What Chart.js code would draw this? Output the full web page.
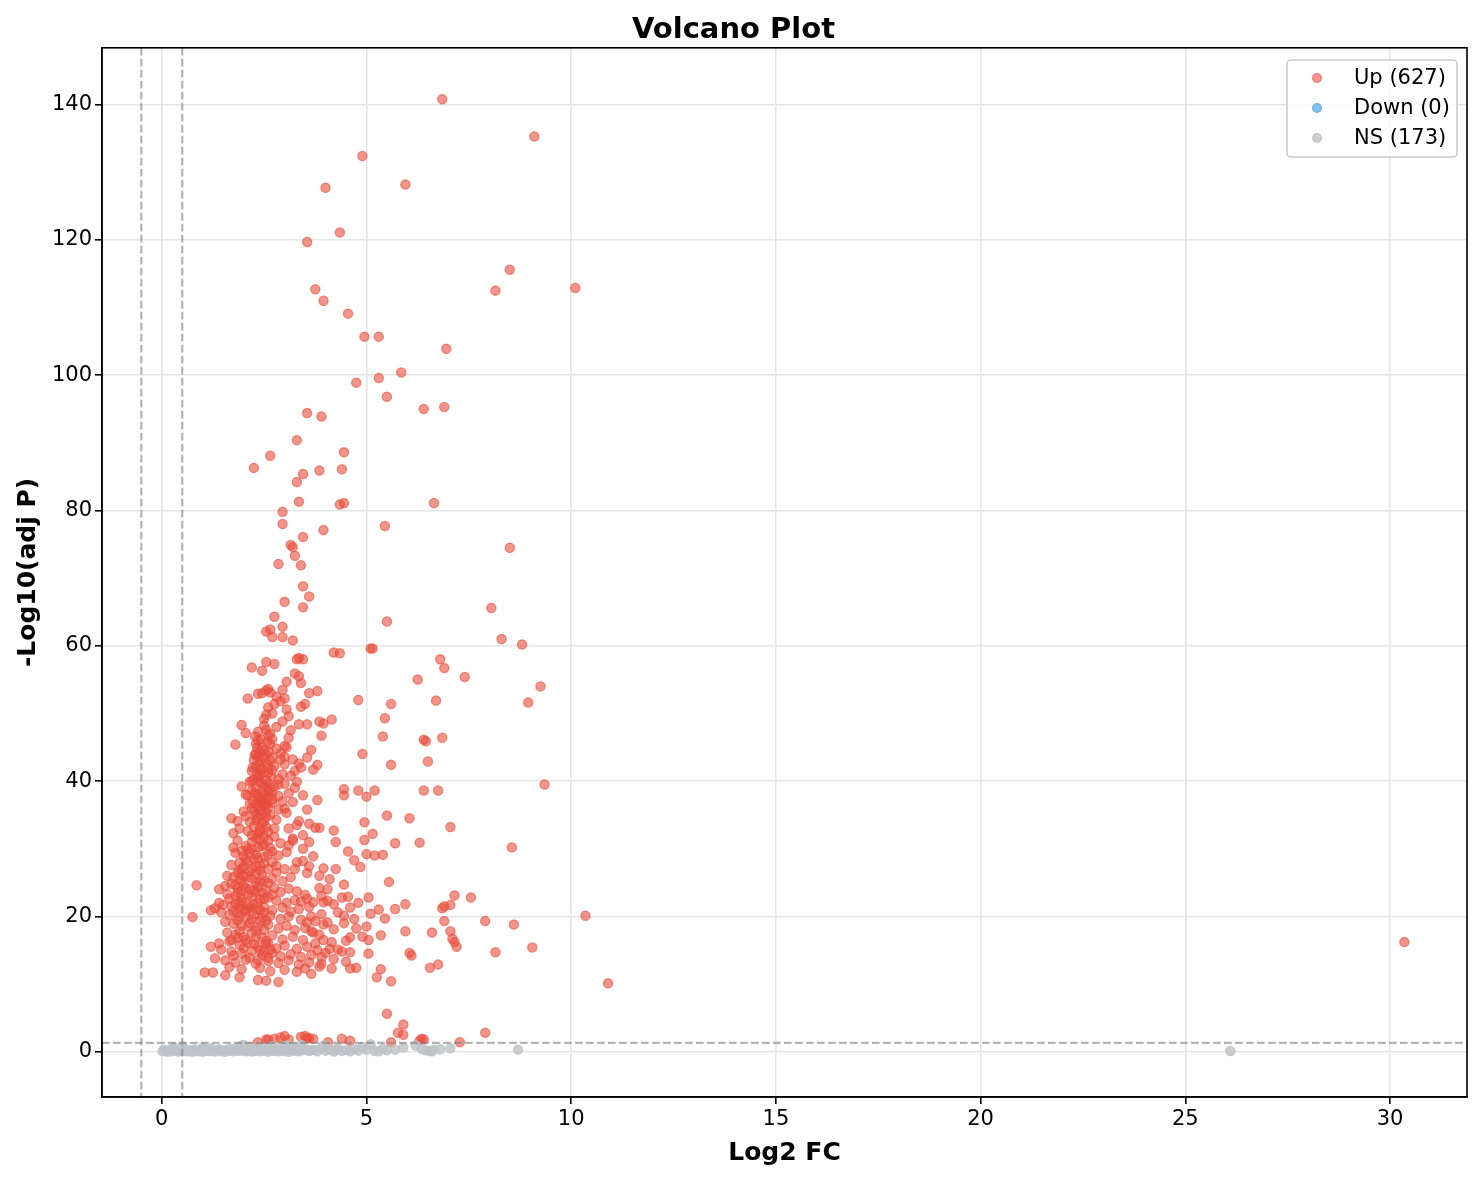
<!DOCTYPE html>
<html>
<head>
<meta charset="utf-8">
<title>Volcano Plot</title>
<script src="https://cdn.jsdelivr.net/npm/chart.js@4.4.1/dist/chart.umd.min.js"></script>
<style>
  html, body { margin: 0; padding: 0; background: #fff; }
  #wrap { width: 1482px; height: 1180px; }
</style>
</head>
<body>
<div id="wrap"><canvas id="volcano" width="1482" height="1180"></canvas></div>
<script>
// ---- Data ([log2FC, -log10 adjP]) ----
const upSparse = [
  [6.85,140.8],[9.1,135.3],[4.9,132.4],[5.95,128.2],[4.0,127.7],[3.55,119.7],[4.35,121.1],
  [8.5,115.6],[3.75,112.7],[8.15,112.5],[10.1,112.9],[3.95,111.0],[4.55,109.1],[4.95,105.7],
  [5.3,105.7],[6.95,103.9],[5.85,100.4],[5.3,99.6],[4.75,98.9],[5.5,96.8],[6.4,95.0],[6.9,95.3],
  [3.55,94.4],[3.9,93.9],[3.3,90.4],[4.45,88.6],[2.65,88.1],[2.25,86.3],[3.85,85.9],[4.4,86.1],
  [3.45,85.4],[3.3,84.2],[3.35,81.3],[4.35,80.9],[4.45,81.1],[6.65,81.1],[2.95,79.8],[2.95,78.0],
  [3.95,77.1],[5.45,77.7],[3.45,76.1],[3.15,74.9],[3.2,74.6],[8.5,74.5],[3.25,73.3],[2.85,72.1],
  [3.4,71.9],[3.45,68.8],[3.6,67.3],[3.0,66.5],[3.45,65.7],[8.05,65.6],[2.75,64.3],[5.5,63.6],
  [2.55,62.1],[2.65,62.4],[2.95,62.8],[2.7,61.3],[2.95,61.3],[3.2,60.8],[8.3,61.0],[8.8,60.2],
  [5.15,59.6],[5.1,59.6],[4.2,59.0],[4.35,58.9],[3.35,58.2],[3.45,58.0],[3.3,58.0],[6.8,58.0],
  [6.9,56.7],[2.55,57.6],[2.2,56.8],[2.75,57.3],[2.45,56.3],[3.25,55.9],[3.35,55.5],[7.4,55.4],
  [6.25,55.0],[3.05,54.7],[3.4,54.5],[9.25,54.0],[2.55,53.4],[2.65,53.1],[2.95,53.5],[3.6,53.0],
  [3.8,53.3],[2.35,52.9],[2.1,52.2],[4.8,52.0],[6.7,51.9],[8.95,51.6],[5.6,51.4],[3.5,51.4],
  [2.75,51.4],[3.4,51.0],[3.05,50.6],[2.55,49.8],[5.45,49.3],[3.85,48.8],[4.15,49.1],[3.95,48.5],
  [3.55,48.4],[1.95,48.3],[3.35,48.4],[2.5,48.2],[2.35,47.3],[2.05,47.1],[3.9,46.7],[5.4,46.6],
  [6.85,46.4],[3.1,46.4],[6.4,46.1],[6.45,45.9],[1.8,45.4],[2.35,46.0],[3.0,45.2],[3.65,44.6],
  [4.9,44.0],[2.4,44.3],[2.55,44.0],[3.55,43.5],[6.5,42.9],[5.6,42.4],[3.8,42.4],[3.0,42.5],
  [3.4,42.0],[3.7,41.7],[9.35,39.5],[3.3,39.9],[2.85,39.5],[1.95,39.2],[6.4,38.6],[6.75,38.6],
  [4.8,38.6],[5.2,38.6],[4.45,38.8],[4.45,37.9],[5.0,37.7],[3.8,37.2],[2.5,36.4],[3.05,35.3],
  [5.5,34.9],[6.05,34.5],[1.7,34.5],[1.85,34.1],[3.35,34.1],[4.95,33.9],[7.05,33.2],[3.75,33.1],
  [3.85,33.1],[4.2,32.7],[5.15,32.2],[1.75,32.3],[6.3,30.9],[4.95,31.3],[3.2,31.2],[3.6,31.0],
  [4.25,31.0],[5.7,30.8],[8.55,30.2],[3.45,30.0],[4.55,29.6],[5.0,29.2],[5.2,29.0],[5.4,29.1],
  [4.7,28.3],[3.45,28.2],[2.7,28.0],[4.85,27.3],[3.95,27.1],[4.25,27.0],[3.0,27.0],[3.55,26.4],
  [5.55,25.1],[4.45,24.7],[4.05,24.0],[3.85,24.2],[0.85,24.6],[1.4,24.0],[5.05,22.8],[7.55,22.8],
  [7.15,23.1],[4.4,22.8],[4.55,22.9],[4.05,22.3],[3.95,22.1],[3.4,22.2],[5.95,21.8],[5.7,21.1],
  [6.85,21.2],[6.9,21.5],[7.05,21.7],[5.3,21.0],[5.1,20.4],[4.45,20.1],[3.9,20.3],[3.65,20.0],
  [10.35,20.1],[0.75,19.9],[1.2,20.9],[6.9,19.3],[7.9,19.3],[8.6,18.8],[4.45,19.0],[4.05,19.1],
  [5.45,19.7],[5.0,18.5],[4.75,18.2],[3.85,17.3],[3.7,17.6],[5.95,17.8],[7.05,17.8],[6.6,17.6],
  [5.35,17.2],[7.1,16.7],[7.15,16.2],[5.05,16.5],[4.5,16.4],[3.75,16.0],[9.05,15.4],[7.2,15.5],
  [4.3,15.1],[4.1,15.2],[8.15,14.7],[6.05,14.6],[6.1,14.2],[5.05,14.5],[4.6,14.7],[4.4,14.8],
  [30.35,16.2],[6.75,12.9],[6.55,12.4],[4.75,12.4],[4.6,12.3],[5.35,12.2],[4.15,12.3],[3.85,12.6],
  [5.25,11.0],[5.6,10.4],[10.9,10.1],[2.85,10.3],[1.9,11.0],[1.05,11.7],[1.25,11.7],[1.55,11.3],
  [2.35,10.6],[2.55,10.5],[3.65,11.5]
];

const upCluster = [
  [2.3,45.5],[2.45,45.0],[2.6,46.8],[2.55,47.6],[2.65,47.0],[2.7,46.2],[2.5,44.6],[2.35,43.6],
  [2.4,42.9],[2.25,43.1],[2.3,42.2],[2.45,41.8],[2.55,42.6],[2.7,43.5],[2.6,41.2],[2.35,40.6],
  [2.25,40.2],[2.4,39.8],[2.55,40.1],[2.3,39.0],[2.45,38.4],[2.65,38.9],[2.2,38.6],[2.35,37.5],
  [2.5,37.1],[2.7,37.3],[2.6,36.1],[2.3,36.6],[2.4,35.7],[2.75,39.2],[2.85,40.3],[2.9,43.2],
  [2.8,44.8],[3.0,43.6],[2.95,41.0],[2.2,41.5],[2.15,39.9],[2.1,37.9],[2.2,36.0],[2.3,35.0],
  [2.55,34.7],[2.45,33.8],[2.25,33.3],[2.1,32.6],[2.35,32.2],[2.6,32.5],[2.65,30.1],[2.5,30.6],
  [2.4,31.4],[2.2,31.0],[2.05,30.4],[1.95,29.7],[2.15,29.4],[2.3,29.1],[2.5,28.8],[2.7,29.6],
  [2.85,29.0],[3.05,29.5],[3.1,30.5],[2.9,30.8],[3.2,31.5],[2.75,31.8],[2.05,28.4],[1.9,28.0],
  [2.0,27.4],[2.2,27.1],[2.4,27.5],[2.6,27.0],[2.8,26.5],[1.85,26.5],[1.75,25.8],[1.9,25.5],
  [2.1,25.9],[2.3,26.3],[2.5,25.3],[2.7,25.6],[2.95,25.2],[3.15,25.8],[1.7,24.8],[1.85,24.2],
  [2.0,24.6],[2.15,24.0],[2.35,24.4],[2.55,23.9],[2.75,24.2],[2.9,23.6],[3.1,24.1],[3.3,23.7],
  [3.5,23.2],[1.6,23.3],[1.8,23.0],[1.95,22.7],[2.2,22.9],[2.4,22.5],[2.6,22.8],[2.8,22.3],
  [3.05,22.0],[3.25,22.4],[3.55,22.6],[3.7,22.1],[1.5,21.7],[1.7,21.5],[1.9,21.2],[2.1,21.6],
  [2.3,21.0],[2.5,21.4],[2.7,20.9],[2.95,21.3],[3.15,20.7],[3.35,21.1],[3.6,21.4],[1.45,20.6],
  [1.65,20.2],[1.85,20.5],[2.05,19.9],[2.25,20.3],[2.45,19.8],[2.65,20.1],[2.9,19.6],[3.1,20.0],
  [3.4,19.5],[3.55,19.1],[1.55,19.2],[1.75,18.9],[1.95,18.6],[2.15,19.0],[2.35,18.4],[2.6,18.8],
  [2.85,18.2],[3.05,18.6],[3.25,18.0],[3.5,18.3],[3.65,17.8],[1.6,17.6],[1.8,17.3],[2.0,17.0],
  [2.2,17.5],[2.45,16.9],[2.7,17.2],[2.95,16.6],[3.2,17.0],[3.45,16.5],[1.4,16.0],[1.65,16.3],
  [1.9,15.8],[2.1,16.1],[2.35,15.5],[2.55,15.9],[2.8,15.3],[3.0,15.7],[3.3,15.2],[3.55,15.5],
  [3.8,15.0],[4.0,14.6],[1.2,15.5],[1.45,15.1],[1.7,14.8],[1.95,14.5],[2.2,14.9],[2.45,14.3],
  [2.7,14.6],[2.9,14.1],[3.15,14.4],[3.4,14.0],[3.65,14.3],[3.9,14.0],[1.3,13.8],[1.55,13.5],
  [1.8,13.2],[2.05,13.6],[2.3,13.0],[2.6,13.4],[2.85,13.1],[3.1,13.5],[3.35,12.9],[3.6,13.2],
  [1.65,12.5],[1.95,12.2],[2.4,12.4],[2.65,11.9],[3.0,12.1],[3.3,11.8],[3.5,12.3],[3.9,13.0],
  [4.2,13.7],[4.5,13.3],
  [3.1,38.2],[3.25,39.0],[3.2,36.9],[2.85,37.8],[3.0,35.9],[3.3,33.5],[3.1,33.0],[2.8,34.3],
  [3.45,32.0],[3.6,33.7],[3.7,28.9],[3.3,28.0],[3.25,27.0],[3.6,27.4],[3.85,26.0],[4.1,25.5],
  [3.9,23.0],[4.2,21.8],[4.6,21.3],[4.8,22.0],[4.3,20.6],[4.7,19.6],[4.2,18.1],[4.9,17.0],
  [3.95,16.5],[4.15,16.2],[4.6,16.9],[3.75,19.3],[3.95,18.8],
  [1.75,30.2],[1.8,29.4],[1.85,31.2],[1.9,33.0],[2.05,34.8],[2.0,35.5],[2.15,36.7],[2.05,38.0],
  [1.95,27.0],[1.7,27.6],[1.6,26.0],[1.55,24.5],[1.4,22.0],[1.3,21.2],
  [2.6,53.6],[2.45,53.0],[2.8,52.5],[3.0,52.2],[2.6,50.9],[2.9,51.8],[2.7,50.0],[2.5,49.2],
  [3.1,49.6],[2.95,48.8],[2.8,48.0],[3.15,47.5],[2.65,45.5],[3.05,45.0],[2.9,44.1],[3.2,43.2],
  [3.35,42.6],[3.25,41.5],[3.15,40.8],[3.0,39.6],[2.7,38.3],[2.95,37.0],[3.45,37.9],[3.55,35.8],
  [2.3,44.0],[2.4,41.0],[2.5,39.3],[2.35,38.0],[2.45,36.8],[2.55,35.4],[2.3,34.2],[2.4,33.0],
  [2.5,31.8],[2.35,30.2],[2.25,28.5],[2.4,26.8],[2.3,25.0],[2.45,23.5],[2.35,22.0],[2.5,20.6],
  [2.4,19.3],[2.3,17.9],[2.55,16.4],[2.4,15.0],[2.25,23.8],[2.6,24.9],[2.15,21.3],[2.05,20.8],
  [1.95,23.8],[2.0,26.0],[2.1,29.9],[2.2,32.0],[1.9,21.9],[1.8,24.6],[2.65,43.0],[2.6,39.7],
  [2.7,41.6]
];

const upCore = [
  [2.28,46.6],[2.42,46.2],[2.58,45.8],[2.33,44.9],[2.62,44.3],[2.27,43.9],[2.5,43.4],[2.38,42.4],
  [2.6,42.0],[2.22,42.0],[2.48,41.2],[2.32,40.9],[2.68,40.6],[2.2,40.0],[2.45,39.6],[2.6,38.4],
  [2.28,38.2],[2.5,38.0],[2.4,37.0],[2.6,37.6],[2.22,37.1],[2.35,36.2],[2.55,36.5],[2.45,35.2],
  [2.25,35.6],[2.65,35.0],[2.35,34.6],[2.5,34.0],[2.15,34.0],[2.4,32.6],[2.55,33.2],[2.3,31.6],
  [2.6,31.2],[2.45,30.4],[2.2,30.0],[2.6,29.2],[2.35,28.6],[2.1,28.1],[2.5,27.8],[2.3,27.4],
  [2.0,28.9],[1.9,26.8],[2.15,26.6],[2.45,26.1],[2.2,25.6],[1.95,25.2],[2.4,25.0],[2.05,24.2],
  [2.3,23.6],[1.85,23.5],[2.1,23.1],[2.5,22.6],[1.95,22.2],[2.25,21.8],[1.8,21.9],[2.05,21.0],
  [2.4,20.9],[1.9,20.0],[2.2,19.6],[2.55,19.4],[1.85,19.4],[2.1,18.5],[2.5,18.0],[1.9,17.8],
  [2.3,16.9],[2.05,16.5],[2.6,16.0],[1.85,16.8],[2.25,15.9],[2.65,15.1],[2.0,15.3],[2.5,14.8],
  [1.75,14.2],[2.15,13.9],[2.6,13.9],[2.35,13.6],[1.7,16.5],[1.75,20.8],[1.65,22.6],[2.7,23.2],
  [2.8,27.5],[2.75,33.0],[2.85,35.8],[2.7,36.8],[2.75,42.2]
];

const upNearCut = [
  [5.5,5.6],[5.9,4.0],[5.77,2.8],[5.9,2.5],[7.9,2.8],[7.28,1.4],[5.6,1.4],[6.3,1.6],[6.35,1.9],
  [2.35,1.4],[2.55,1.8],[2.6,1.8],[3.0,2.3],[3.1,1.8],[3.5,2.3],[3.55,2.0],[3.6,2.0],[4.06,1.4],
  [4.4,1.9],[4.6,1.6],[2.9,2.1],[3.7,1.9],[6.4,1.8],[3.4,2.2],[2.75,1.9]
];

const downPoints = [];

const nsPoints = [
  [0.02,0.05],[0.1,0.12],[0.15,0.0],[0.2,0.3],[0.25,0.08],[0.3,0.6],[0.35,0.15],[0.4,0.02],
  [0.45,0.25],[0.5,0.1],[0.55,0.4],[0.6,0.05],[0.7,0.2],[0.75,0.0],[0.8,0.35],[0.85,0.1],
  [0.9,0.05],[0.95,0.22],[1.0,0.0],[1.05,0.15],[1.1,0.3],[1.15,0.05],[1.2,0.5],[1.25,0.1],
  [1.3,0.02],[1.35,0.2],[1.4,0.35],[1.45,0.08],[1.5,0.15],[1.55,0.0],[1.6,0.28],[1.65,0.12],
  [1.7,0.45],[1.75,0.05],[1.8,0.2],[1.85,0.6],[1.9,0.1],[1.95,0.9],[2.0,0.3],[2.05,0.05],
  [2.1,0.18],[2.15,0.7],[2.2,0.02],[2.25,0.4],[2.3,0.12],[2.35,0.25],[2.4,0.05],[2.45,0.55],
  [2.5,0.15],[2.55,0.3],[2.6,0.0],[2.65,0.2],[2.7,0.8],[2.75,0.1],[2.8,0.35],[2.85,0.05],
  [2.9,0.22],[2.95,0.6],[3.0,0.1],[3.05,0.4],[3.1,0.0],[3.15,0.25],[3.2,0.7],[3.25,0.12],
  [3.3,0.3],[3.35,0.05],[3.4,1.0],[3.45,0.2],[3.5,0.45],[3.6,0.1],[3.7,0.3],[3.8,0.05],
  [3.9,0.6],[4.0,0.15],[4.1,0.35],[4.2,0.02],[4.3,0.5],[4.4,0.1],[4.5,0.25],[4.6,0.05],
  [4.7,0.4],[4.8,0.15],[4.9,0.7],[5.0,0.3],[5.1,1.1],[5.2,0.1],[5.3,0.05],[5.4,0.45],
  [5.5,0.2],[5.7,0.3],[5.9,0.6],[6.2,0.9],[6.35,0.4],[6.45,0.2],[6.55,0.1],[6.6,0.05],
  [6.65,0.3],[6.8,0.35],[7.05,0.5],[8.7,0.3],[26.1,0.1],
  [0.05,0.3],[0.25,0.4],[0.65,0.1],[1.05,0.4],[1.45,0.25],[1.9,0.4],[2.25,0.1],[2.6,0.5],
  [2.95,0.2],[3.3,0.5],[3.65,0.25],[3.95,0.9],[4.25,0.2],[0.5,0.8],[1.0,0.6],[2.0,1.0],[3.05,0.9]
];

const legendLabels = ['Up (627)', 'Down (0)', 'NS (173)'];
const xTicks = [0, 5, 10, 15, 20, 25, 30];
const yTicks = [0, 20, 40, 60, 80, 100, 120, 140];
const fcCut = [-0.5, 0.5];
const pCut = 1.3;

// ---- Styles ----
const FONT = "'DejaVu Sans', 'Liberation Sans', sans-serif";
const RED = 'rgba(231,76,60,0.6)';
const BLUE = 'rgba(52,152,219,0.6)';
const GREY = 'rgba(189,195,199,0.8)';
const toXY = arr => arr.map(p => ({ x: p[0], y: p[1] }));

// ---- Frame, cut-off lines and legend ----
const decorations = {
  id: 'decorations',
  afterDatasetsDraw(chart) {
    const { ctx, chartArea: a, scales: { x, y } } = chart;
    ctx.save();
    ctx.beginPath();
    ctx.rect(a.left, a.top, a.right - a.left, a.bottom - a.top);
    ctx.clip();
    ctx.strokeStyle = 'rgba(128,128,128,0.6)';
    ctx.lineWidth = 2.2;
    ctx.setLineDash([7.7, 3.3]);
    fcCut.forEach(v => {
      const px = x.getPixelForValue(v);
      ctx.beginPath(); ctx.moveTo(px, a.top); ctx.lineTo(px, a.bottom); ctx.stroke();
    });
    const py = y.getPixelForValue(pCut);
    ctx.beginPath(); ctx.moveTo(a.left, py); ctx.lineTo(a.right, py); ctx.stroke();
    ctx.restore();
  },
  afterDraw(chart) {
    const { ctx, chartArea: a } = chart;
    ctx.save();
    ctx.strokeStyle = '#000';
    ctx.lineWidth = 1.6;
    ctx.strokeRect(a.left, a.top, a.right - a.left, a.bottom - a.top);

    // legend box
    const bx = 1287, by = 60, bw = 170, bh = 97;
    ctx.fillStyle = 'rgba(255,255,255,0.8)';
    ctx.strokeStyle = '#cccccc';
    ctx.lineWidth = 1.6;
    ctx.beginPath();
    ctx.roundRect(bx, by, bw, bh, 4);
    ctx.fill(); ctx.stroke();

    const colors = [RED, BLUE, GREY];
    ctx.font = `21px ${FONT}`;
    ctx.textBaseline = 'middle';
    legendLabels.forEach((label, i) => {
      const cy = 78 + i * 30;
      ctx.beginPath();
      ctx.arc(1317, cy, 4.5, 0, Math.PI * 2);
      ctx.fillStyle = colors[i];
      ctx.fill();
      ctx.strokeStyle = colors[i];
      ctx.lineWidth = 1.2;
      ctx.stroke();
      ctx.fillStyle = '#000';
      ctx.fillText(label, 1354, cy + 1);
    });
    ctx.restore();
  }
};

// ---- Chart ----
new Chart(document.getElementById('volcano'), {
  type: 'scatter',
  data: {
    datasets: [
      { label: legendLabels[0], data: toXY(upSparse.concat(upCluster, upCore, upNearCut)),
        backgroundColor: RED, borderColor: RED, borderWidth: 1.3, pointRadius: 4.6, order: 2 },
      { label: legendLabels[1], data: toXY(downPoints),
        backgroundColor: BLUE, borderColor: BLUE, borderWidth: 1.3, pointRadius: 4.6, order: 1 },
      { label: legendLabels[2], data: toXY(nsPoints),
        backgroundColor: GREY, borderColor: GREY, borderWidth: 1.3, pointRadius: 4.6, order: 0 },
    ]
  },
  options: {
    responsive: false,
    animation: false,
    devicePixelRatio: 1,
    layout: { padding: { top: 0, right: 15, bottom: 0, left: 0 } },
    plugins: {
      legend: { display: false },
      tooltip: { enabled: false },
      title: {
        display: true,
        text: 'Volcano Plot',
        color: '#000',
        font: { family: FONT, size: 29, weight: 'bold', lineHeight: 1.2 },
        padding: { top: 13, bottom: 0 }
      }
    },
    scales: {
      x: {
        type: 'linear',
        min: -1.46, max: 31.88,
        afterBuildTicks: s => { s.ticks = xTicks.map(v => ({ value: v })); },
        afterFit: s => { s.height = 83; },
        grid: { color: '#e6e6e6', lineWidth: 1.6, tickLength: 7, tickColor: '#000', tickWidth: 1.6 },
        border: { display: true, color: '#000', width: 1.6 },
        ticks: { color: '#000', padding: 3, font: { family: FONT, size: 21 }, maxRotation: 0 },
        title: {
          display: true, text: 'Log2 FC', color: '#000',
          font: { family: FONT, size: 25, weight: 'bold', lineHeight: 1.2 },
          padding: { top: 0, bottom: 12 }
        }
      },
      y: {
        type: 'linear',
        min: -6.7, max: 148.4,
        afterBuildTicks: s => { s.ticks = yTicks.map(v => ({ value: v })); },
        afterFit: s => { s.width = 102; },
        grid: { color: '#e6e6e6', lineWidth: 1.6, tickLength: 7, tickColor: '#000', tickWidth: 1.6 },
        border: { display: true, color: '#000', width: 1.6 },
        ticks: { color: '#000', padding: 3, font: { family: FONT, size: 21 } },
        title: {
          display: true, text: '-Log10(adj P)', color: '#000',
          font: { family: FONT, size: 25, weight: 'bold', lineHeight: 1.2 },
          padding: { top: 13, bottom: 0 }
        }
      }
    }
  },
  plugins: [decorations]
});
</script>
</body>
</html>
